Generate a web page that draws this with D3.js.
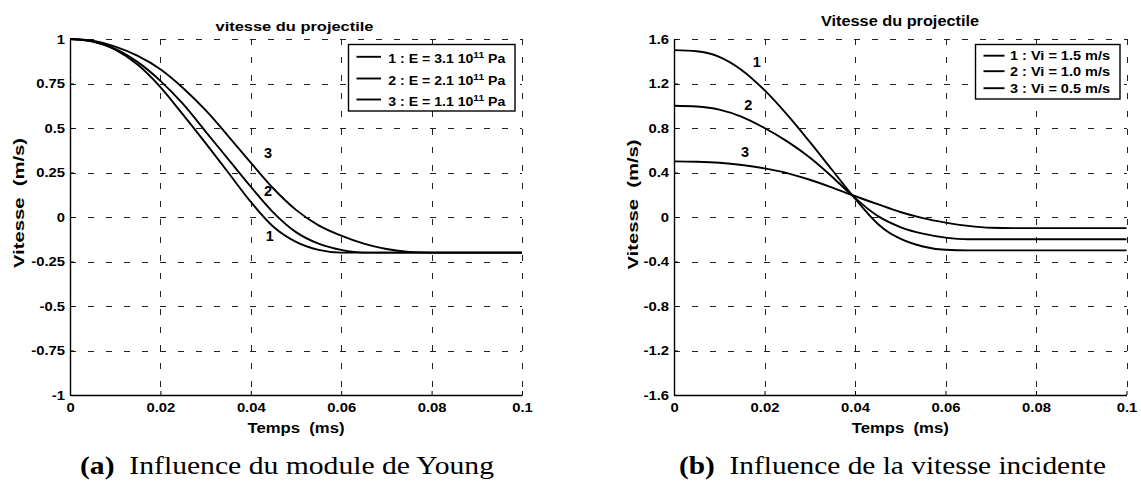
<!DOCTYPE html>
<html>
<head>
<meta charset="utf-8">
<script src="https://cdn.jsdelivr.net/npm/d3@7"></script>
<style>
  body { margin: 0; background: #fff; }
  svg { display: block; }
  text { font-family: "Liberation Sans", Arial, sans-serif; font-weight: bold; fill: #000; white-space: pre; }
  .caption { font-family: "Liberation Serif", "Times New Roman", serif; font-weight: normal; }
</style>
</head>
<body>
<svg id="fig" width="1141" height="484"></svg>
<script>
// shared time axis (ms)
const timeTicks = [0, 0.02, 0.04, 0.06, 0.08, 0.1];

// (a) Young's modulus
const youngTicks = [-1, -0.75, -0.5, -0.25, 0, 0.25, 0.5, 0.75, 1];
const youngNames = ['1 : E = 3.1 10', '2 : E = 2.1 10', '3 : E = 1.1 10'];
const youngE1 = [[0, 1], [0.005, 0.985], [0.01, 0.94], [0.015, 0.855], [0.02, 0.73], [0.025, 0.575],
  [0.03, 0.415], [0.035, 0.25], [0.04, 0.085], [0.045, -0.055], [0.05, -0.14], [0.055, -0.185],
  [0.06, -0.2], [0.1, -0.2]];
const youngE2 = [[0, 1], [0.005, 0.987], [0.01, 0.945], [0.015, 0.87], [0.02, 0.765], [0.025, 0.635],
  [0.03, 0.48], [0.035, 0.325], [0.04, 0.17], [0.045, 0.025], [0.05, -0.085], [0.055, -0.15],
  [0.06, -0.185], [0.065, -0.2], [0.1, -0.2]];
const youngE3 = [[0, 1], [0.005, 0.99], [0.01, 0.957], [0.015, 0.905], [0.02, 0.83], [0.025, 0.725],
  [0.03, 0.6], [0.035, 0.455], [0.04, 0.305], [0.045, 0.16], [0.05, 0.04], [0.055, -0.047],
  [0.06, -0.105], [0.065, -0.15], [0.07, -0.18], [0.075, -0.196], [0.08, -0.2], [0.1, -0.2]];
const youngLabelAt = [[0.0442, -0.107], [0.0438, 0.145], [0.0438, 0.358]];

// (b) incident speed
const speedTicks = [-1.6, -1.2, -0.8, -0.4, 0, 0.4, 0.8, 1.2, 1.6];
const speedNames = ['1 : Vi = 1.5 m/s', '2 : Vi = 1.0 m/s', '3 : Vi = 0.5 m/s'];
const speedV1 = [[0, 1.5], [0.005, 1.49], [0.01, 1.44], [0.015, 1.32], [0.02, 1.14], [0.025, 0.92],
  [0.03, 0.675], [0.035, 0.42], [0.0392, 0.205], [0.045, -0.06], [0.0475, -0.14], [0.05, -0.195],
  [0.055, -0.265], [0.06, -0.295], [0.065, -0.3], [0.1, -0.3]];
const speedV2 = [[0, 1], [0.005, 0.993], [0.01, 0.965], [0.015, 0.9], [0.02, 0.8], [0.025, 0.68],
  [0.03, 0.535], [0.035, 0.36], [0.0392, 0.2], [0.045, 0.01], [0.05, -0.09], [0.055, -0.15],
  [0.06, -0.185], [0.065, -0.2], [0.1, -0.2]];
const speedV3 = [[0, 0.5], [0.005, 0.497], [0.01, 0.488], [0.015, 0.468], [0.02, 0.437], [0.025, 0.395],
  [0.03, 0.335], [0.035, 0.265], [0.0392, 0.2], [0.045, 0.115], [0.05, 0.045], [0.055, -0.01],
  [0.06, -0.05], [0.065, -0.08], [0.07, -0.097], [0.075, -0.1], [0.1, -0.1]];
const speedLabelAt = [[0.0183, 1.396], [0.0164, 1.007], [0.0157, 0.587]];

const svg = d3.select('#fig');
svg.append('rect').attr('width', 1141).attr('height', 484).attr('fill', '#fff');

// stretch text horizontally (the figure's lettering is wider than Arial)
function widen(sel, k) {
  sel.each(function () {
    const w = this.getComputedTextLength();
    this.setAttribute('textLength', w * k);
    this.setAttribute('lengthAdjust', 'spacingAndGlyphs');
  });
}
function fit(sel, len) {
  sel.attr('textLength', len).attr('lengthAdjust', 'spacingAndGlyphs');
}

function panel(opt) {
  const x = d3.scaleLinear().domain([0, 0.1]).range([opt.left, opt.right]),
    y = d3.scaleLinear().domain(d3.extent(opt.yTicks)).range([395, 39]);
  const g = svg.append('g');

  // dashed grid
  const grid = g.append('g').attr('stroke', '#222').attr('stroke-width', 1)
    .attr('stroke-dasharray', '6,12').attr('shape-rendering', 'crispEdges');
  grid.selectAll('.gx').data(timeTicks.slice(1)).join('line')
    .attr('x1', d => Math.round(x(d)) + 0.5).attr('x2', d => Math.round(x(d)) + 0.5)
    .attr('y1', y.range()[1]).attr('y2', y.range()[0]);
  grid.selectAll('.gy').data(opt.yTicks).join('line')
    .attr('y1', d => Math.round(y(d)) + 0.5).attr('y2', d => Math.round(y(d)) + 0.5)
    .attr('x1', x.range()[0]).attr('x2', x.range()[1]);

  // axes (plain hyphen for negatives, like the original)
  const fmt = d => String(+d.toFixed(2));
  const ax = g.append('g').attr('transform', 'translate(0,395)')
    .call(d3.axisBottom(x).tickValues(timeTicks).tickFormat(fmt).tickSizeInner(-4).tickSizeOuter(0).tickPadding(8));
  const ay = g.append('g').attr('transform', `translate(${opt.left},0)`)
    .call(d3.axisLeft(y).tickValues(opt.yTicks).tickFormat(fmt).tickSizeInner(-4).tickSizeOuter(0).tickPadding(5));
  [ax, ay].forEach(a => {
    a.select('.domain').attr('stroke', '#000').attr('stroke-width', 1.4);
    a.selectAll('.tick line').attr('stroke', '#000');
    a.selectAll('text').attr('font-size', 13).attr('font-family', null);
    widen(a.selectAll('text'), 1.14);
  });

  // curves
  const line = d3.line().x(d => x(d[0])).y(d => y(d[1])).curve(d3.curveMonotoneX);
  g.append('g').selectAll('path').data(opt.series).join('path')
    .attr('d', line).attr('fill', 'none').attr('stroke', '#000').attr('stroke-width', 1.9);

  // curve numbers
  g.append('g').selectAll('text').data(opt.labelAt).join('text')
    .attr('x', d => x(d[0])).attr('y', d => y(d[1])).attr('dy', '0.36em')
    .attr('text-anchor', 'middle').attr('font-size', 14.5)
    .text((d, i) => i + 1);

  // title and axis labels
  fit(g.append('text').attr('x', opt.titleX).attr('y', opt.titleY).attr('text-anchor', 'middle')
    .attr('font-size', opt.titleSize).text(opt.title), 158);
  fit(g.append('text').attr('x', (opt.left + opt.right) / 2).attr('y', 433).attr('text-anchor', 'middle')
    .attr('font-size', 14).text('Temps  (ms)'), 97);
  fit(g.append('text').attr('transform', `translate(${opt.yLabelX},${opt.yLabelY}) rotate(-90)`)
    .attr('text-anchor', 'middle').attr('font-size', 14).text('Vitesse  (m/s)'), 130);

  // legend
  const lg = g.append('g');
  lg.append('rect').attr('x', opt.legend.x).attr('y', opt.legend.y)
    .attr('width', opt.legend.w).attr('height', opt.legend.h)
    .attr('fill', '#fff').attr('stroke', '#000').attr('stroke-width', 1.4);
  opt.names.forEach((name, i) => {
    const by = opt.legend.rows[i];
    lg.append('line').attr('x1', opt.legend.x + 8).attr('x2', opt.legend.x + opt.legend.lineW)
      .attr('y1', by - opt.legend.lift).attr('y2', by - opt.legend.lift)
      .attr('stroke', '#000').attr('stroke-width', 1.9);
    const t = lg.append('text').attr('x', opt.legend.textX).attr('y', by).attr('font-size', opt.legend.size);
    t.append('tspan').text(name);
    if (opt.legend.sup) {
      t.append('tspan').attr('font-size', opt.legend.size * 0.72).attr('dy', -5).text(opt.legend.sup);
      t.append('tspan').attr('dy', 5).text(' Pa');
    }
    fit(t, opt.legend.textW);
  });

  // caption
  const c = svg.append('text').attr('class', 'caption').attr('x', opt.capX).attr('y', 474).attr('font-size', 25);
  c.append('tspan').attr('font-weight', 'bold').text(opt.capTag);
  c.append('tspan').text(opt.caption);
  fit(c, opt.capW);
}

panel({
  left: 70, right: 522, yTicks: youngTicks,
  series: [youngE1, youngE2, youngE3], labelAt: youngLabelAt,
  title: 'vitesse du projectile', titleX: 294.5, titleY: 30.5, titleSize: 13,
  yLabelX: 24, yLabelY: 203,
  names: youngNames,
  legend: { x: 348.5, y: 44.5, w: 166.5, h: 66.5, rows: [63.3, 85, 106], lift: 6.5,
    lineW: 32.5, textX: 388.3, textW: 117, size: 13.5, sup: '11' },
  capX: 80, capTag: '(a)', caption: '  Influence du module de Young', capW: 414
});

panel({
  left: 674, right: 1126.5, yTicks: speedTicks,
  series: [speedV1, speedV2, speedV3], labelAt: speedLabelAt,
  title: 'Vitesse du projectile', titleX: 900, titleY: 26, titleSize: 14,
  yLabelX: 638, yLabelY: 204.5,
  names: speedNames,
  legend: { x: 975.5, y: 44.5, w: 144.5, h: 54.5, rows: [60, 75.5, 92.5], lift: 4.3,
    lineW: 29, textX: 1010, textW: 100, size: 12 },
  capX: 679, capTag: '(b)', caption: '  Influence de la vitesse incidente', capW: 427
});
</script>
</body>
</html>
